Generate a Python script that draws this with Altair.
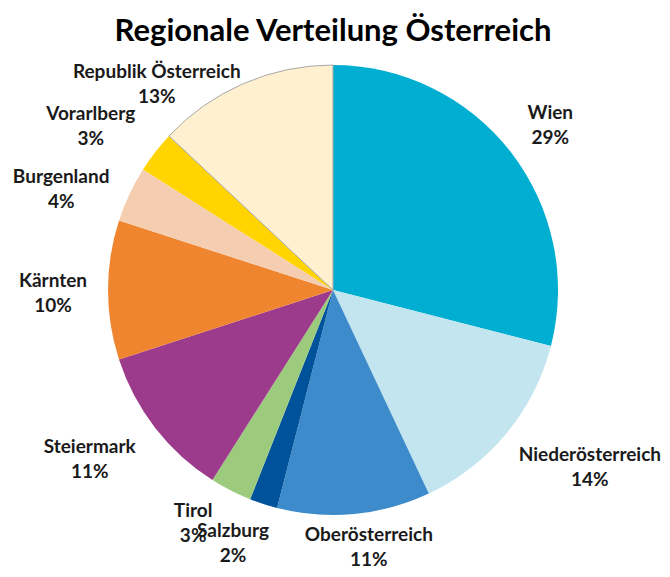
import altair as alt
import pandas as pd

regions = ["Wien", "Niederösterreich", "Oberösterreich", "Salzburg", "Tirol",
           "Steiermark", "Kärnten", "Burgenland", "Vorarlberg", "Republik Österreich"]
shares = [29, 14, 11, 2, 3, 11, 10, 4, 3, 13]
colors = ["#00AED1", "#C2E5EF", "#3D8BCB", "#00529B", "#9DCB7D",
          "#9C3A8B", "#F08530", "#F5CDB0", "#FFD400", "#FFF1CF"]

df = pd.DataFrame({"region": regions, "share": shares, "idx": list(range(len(regions)))})

# label nudges (styling only)
nudges = {
    "Wien": (0, -8), "Niederösterreich": (45, -10), "Oberösterreich": (10, -29),
    "Salzburg": (-15, -21), "Tirol": (-15, -24), "Steiermark": (-26, -12),
    "Kärnten": (-5, -9), "Burgenland": (-23, 4), "Vorarlberg": (-25, -7),
    "Republik Österreich": (-67, 34),
}

color = alt.Color("region:N", scale=alt.Scale(domain=regions, range=colors), legend=None)

arcs = alt.Chart(df).mark_arc(outerRadius=225, stroke="#a8a8a8").encode(
    theta=alt.Theta("share:Q", stack=True),
    order=alt.Order("idx:O"),
    color=color,
    strokeWidth=alt.condition(alt.datum.region == "Republik Österreich", alt.value(1), alt.value(0)),
)

text_base = (
    alt.Chart(df)
    .transform_window(cum="sum(share)", sort=[alt.SortField("idx")], frame=[None, 0])
    .transform_joinaggregate(total="sum(share)")
    .transform_calculate(
        mid="(datum.cum - datum.share / 2) / datum.total",
        label="datum.region + '\\n' + datum.share + '%'",
    )
)

labels = []
for r in regions:
    dx, dy = nudges[r]
    labels.append(
        text_base.transform_filter(alt.datum.region == r)
        .mark_text(radius=275, dx=dx, dy=dy, font="Lato", fontWeight="bold",
                   fontSize=19, lineBreak="\n", lineHeight=25, color="#1a1a1a",
                   align="center", baseline="middle")
        .encode(theta=alt.Theta("mid:Q", scale=alt.Scale(domain=[0, 1]), stack=False),
                text="label:N")
    )

text_layer = alt.layer(*labels)

chart = alt.layer(arcs, text_layer).resolve_scale(theta="independent").properties(
    width=650, height=460,
    title=alt.TitleParams("Regionale Verteilung Österreich", font="Lato", fontSize=31,
                          fontWeight="bold", color="#000000", anchor="middle", offset=12),
    autosize=alt.AutoSizeParams(type="none"),
    padding={"left": 0, "top": 52, "right": 4, "bottom": 49},
).configure_view(stroke=None)

chart.save("out.html", embed_options={"renderer": "svg", "actions": False})
